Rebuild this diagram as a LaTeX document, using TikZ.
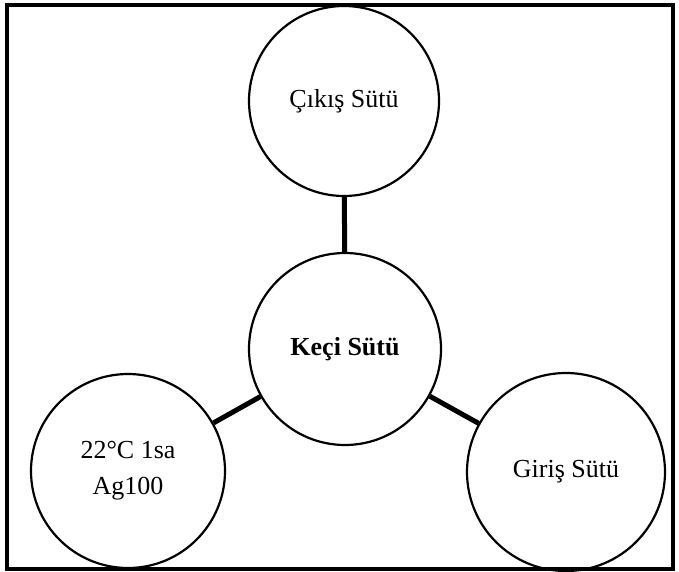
\documentclass[tikz,border=0pt]{standalone}
\usepackage{fontspec}
\setmainfont{Liberation Serif}
\begin{document}
\begin{tikzpicture}[x=1pt,y=-1pt,
  bubble/.style={circle,draw,line width=2.2pt,inner sep=0pt,align=center,
    font=\fontsize{26}{36}\selectfont},
  link/.style={line width=5pt}]
\useasboundingbox (0,0) rectangle (679,572);
% outer frame
\draw[line width=4.5pt] (7,5) rectangle (673,569);
% circles
\node[bubble,minimum size=190pt] (out) at (344,101) {Çıkış Sütü};
\node[bubble,minimum size=192pt,font=\fontsize{26}{36}\selectfont\bfseries] (goat) at (345,349) {Keçi Sütü};
\node[bubble,minimum size=194pt] (treat) at (128,471) {22°C 1sa\\Ag100};
\node[bubble,minimum size=198pt] (in) at (566,472) {Giriş Sütü};
% connectors
\draw[link] (out) -- (goat);
\draw[link] (goat) -- (treat);
\draw[link] (goat) -- (in);
\end{tikzpicture}
\end{document}
